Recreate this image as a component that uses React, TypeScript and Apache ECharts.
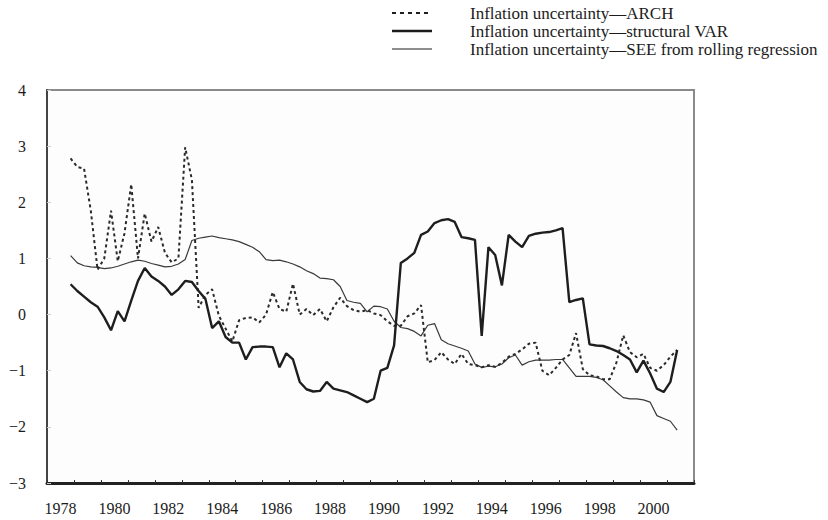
import React, { useEffect, useRef } from "react";
import * as echarts from "echarts";

// Year categories (axis bands) and tick labels
const yearLabels = [
  "1978", "1979", "1980", "1981", "1982", "1983", "1984", "1985", "1986", "1987", "1988", "1989",
  "1990", "1991", "1992", "1993", "1994", "1995", "1996", "1997", "1998", "1999", "2000", "2001",
];
const yTicks = [-3, -2, -1, 0, 1, 2, 3, 4];

// Quarterly observations, 1978Q4 to 2001Q2
const firstYear = 1978;
const firstQuarter = 4;

const archValues = [
  2.78, 2.63, 2.6, 1.85, 0.8, 1.0, 1.85, 0.95, 1.45, 2.32,
  1.0, 1.8, 1.3, 1.56, 1.1, 0.93, 1.0, 2.98, 2.4, 0.12,
  0.35, 0.45, -0.02, -0.25, -0.48, -0.1, -0.06, -0.05, -0.14, 0.0,
  0.4, 0.1, 0.05, 0.55, 0.0, 0.1, -0.01, 0.1, -0.12, 0.13,
  0.3, 0.15, 0.08, 0.05, 0.08, 0.02, -0.01, -0.12, -0.2, -0.2,
  -0.03, 0.02, 0.17, -0.85, -0.81, -0.67, -0.8, -0.88, -0.7, -0.88,
  -0.9, -0.94, -0.9, -0.93, -0.86, -0.75, -0.7, -0.62, -0.52, -0.5,
  -1.0, -1.08, -0.95, -0.8, -0.72, -0.33, -0.97, -1.08, -1.1, -1.15,
  -1.15, -0.85, -0.37, -0.67, -0.76, -0.7, -0.95, -1.0, -0.9, -0.75,
  -0.63,
];

const varValues = [
  0.54, 0.42, 0.32, 0.22, 0.14, -0.05, -0.28, 0.06, -0.12, 0.25,
  0.6, 0.83, 0.68, 0.6, 0.5, 0.35, 0.45, 0.6, 0.58, 0.42,
  0.28, -0.24, -0.12, -0.4, -0.5, -0.5, -0.8, -0.58, -0.57, -0.57,
  -0.58, -0.94, -0.69, -0.8, -1.2, -1.33, -1.37, -1.36, -1.2, -1.32,
  -1.35, -1.38, -1.44, -1.5, -1.56, -1.5, -1.0, -0.95, -0.55, 0.92,
  1.0, 1.1, 1.42, 1.48, 1.63, 1.68, 1.7, 1.65, 1.38, 1.36,
  1.33, -0.38, 1.2, 1.06, 0.52, 1.42, 1.3, 1.2, 1.4, 1.44,
  1.46, 1.47, 1.5, 1.54, 0.22, 0.26, 0.29, -0.53, -0.55, -0.56,
  -0.6, -0.65, -0.72, -0.8, -1.03, -0.82, -1.05, -1.32, -1.38, -1.2,
  -0.63,
];

const seeValues = [
  1.05, 0.92, 0.87, 0.85, 0.84, 0.82, 0.83, 0.86, 0.9, 0.94,
  0.97, 0.95, 0.91, 0.88, 0.85, 0.86, 0.9, 0.98, 1.32, 1.36,
  1.38, 1.4, 1.37, 1.35, 1.33, 1.3, 1.25, 1.2, 1.12, 0.98,
  0.96, 0.97, 0.94, 0.9, 0.85, 0.78, 0.73, 0.65, 0.64, 0.62,
  0.5, 0.25, 0.22, 0.2, 0.05, 0.15, 0.14, 0.1, -0.12, -0.23,
  -0.25, -0.3, -0.38, -0.19, -0.16, -0.45, -0.52, -0.56, -0.6, -0.65,
  -0.88, -0.94, -0.92, -0.93, -0.88, -0.77, -0.72, -0.9, -0.84, -0.81,
  -0.81, -0.81, -0.8, -0.8, -0.95, -1.1, -1.1, -1.1, -1.12, -1.16,
  -1.27, -1.38, -1.48, -1.5, -1.5, -1.52, -1.56, -1.8, -1.85, -1.9,
  -2.06,
];

const legendNames = [
  "Inflation uncertainty\u2014ARCH",
  "Inflation uncertainty\u2014structural VAR",
  "Inflation uncertainty\u2014SEE from rolling regression",
];

// position of a quarterly observation at the middle of its quarter
const quarterTime = (i: number) => firstYear + (firstQuarter - 1 + i + 0.5) / 4;
const toPairs = (vals: number[]) => vals.map((v, i) => [quarterTime(i), v]);

const FONT = "'Liberation Serif', 'Times New Roman', serif";
const INK = "#1c1c1c";

export default function App() {
  const ref = useRef<HTMLDivElement>(null);

  useEffect(() => {
    document.body.style.margin = "0";
    const chart = echarts.init(ref.current!, null, { renderer: "svg" });

    const legendX1 = 392;
    const legendX2 = 432;
    const legendTextX = 470;
    const legendY = [13, 31, 49];
    const legendStyles = [
      { stroke: INK, lineWidth: 2, lineDash: [4, 4] },
      { stroke: INK, lineWidth: 2.6 },
      { stroke: INK, lineWidth: 1 },
    ];

    const graphics: any[] = [];
    legendNames.forEach((name, k) => {
      graphics.push({
        type: "line",
        shape: { x1: legendX1, y1: legendY[k], x2: legendX2, y2: legendY[k] },
        style: legendStyles[k],
      });
      graphics.push({
        type: "text",
        x: legendTextX,
        y: legendY[k],
        style: {
          text: name,
          fill: INK,
          font: `17px ${FONT}`,
          verticalAlign: "middle",
        },
      });
    });

    chart.setOption({
      animation: false,
      backgroundColor: "#ffffff",
      textStyle: { fontFamily: FONT },
      grid: {
        left: 47,
        right: 134,
        top: 90,
        bottom: 37,
        show: true,
        borderColor: "#8a8a8a",
        borderWidth: 2,
        backgroundColor: "#fdfdfd",
      },
      graphic: graphics,
      xAxis: [
        {
          type: "category",
          data: yearLabels,
          boundaryGap: true,
          axisLine: { show: true, onZero: false, lineStyle: { color: "#222", width: 3 } },
          axisTick: { show: true, inside: true, length: 3, interval: 0, lineStyle: { color: "#333", width: 1 } },
          axisLabel: { interval: 1, color: INK, fontFamily: FONT, fontSize: 16, margin: 17 },
          splitLine: { show: false },
        },
        {
          type: "value",
          min: firstYear,
          max: firstYear + yearLabels.length,
          show: false,
        },
      ],
      yAxis: {
        type: "value",
        min: yTicks[0],
        max: yTicks[yTicks.length - 1],
        interval: 1,
        axisLine: { show: true, onZero: false, lineStyle: { color: "#444", width: 2 } },
        axisTick: { show: true, inside: true, length: 4, lineStyle: { color: "#ccc" } },
        axisLabel: {
          color: INK,
          fontFamily: FONT,
          fontSize: 16,
          margin: 21,
          formatter: (v: number) => String(v).replace("-", "\u2212"),
        },
        splitLine: { show: false },
      },
      series: [
        {
          name: legendNames[2],
          type: "line",
          xAxisIndex: 1,
          data: toPairs(seeValues),
          symbol: "none",
          lineStyle: { color: "#3a3a3a", width: 1.2 },
          z: 2,
        },
        {
          name: legendNames[0],
          type: "line",
          xAxisIndex: 1,
          data: toPairs(archValues),
          symbol: "none",
          lineStyle: { color: "#2a2a2a", width: 2, type: [3, 3] },
          z: 3,
        },
        {
          name: legendNames[1],
          type: "line",
          xAxisIndex: 1,
          data: toPairs(varValues),
          symbol: "none",
          lineStyle: { color: "#1e1e1e", width: 2.4 },
          z: 4,
        },
      ],
    });

    return () => chart.dispose();
  }, []);

  return <div ref={ref} style={{ width: 828, height: 520 }} />;
}
